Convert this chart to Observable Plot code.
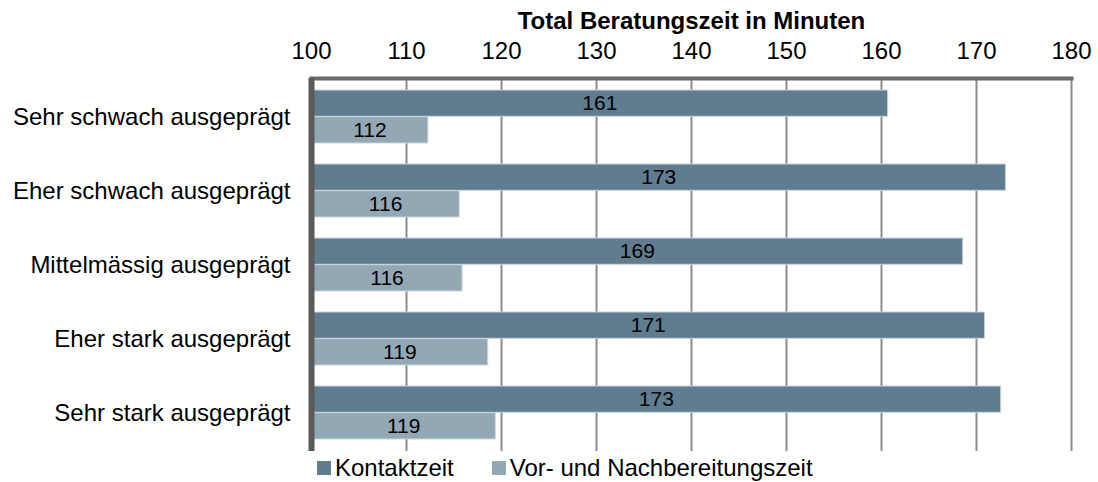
<!DOCTYPE html>
<html>
<head>
<meta charset="utf-8">
<script src="https://cdn.jsdelivr.net/npm/d3@7"></script>
<script src="https://cdn.jsdelivr.net/npm/@observablehq/plot@0.6"></script>
<style>
  html, body { margin: 0; padding: 0; background: #fff; }
  #wrap { position: relative; width: 1098px; height: 482px; font-family: "Liberation Sans", Arial, sans-serif; }
  #legend { position: absolute; top: 454px; left: 317px; display: flex; align-items: center; font-size: 24px; color: #000; white-space: nowrap; }
  #legend .item { display: flex; align-items: center; margin-right: 38px; }
  #legend .sw { width: 14px; height: 14px; margin-right: 4px; }
</style>
</head>
<body>
<div id="wrap"><div id="chart"></div><div id="legend"></div></div>
<script>
const categories = ["Sehr schwach ausgeprägt", "Eher schwach ausgeprägt", "Mittelmässig ausgeprägt", "Eher stark ausgeprägt", "Sehr stark ausgeprägt"];
const kontaktzeit = [160.7, 173.1, 168.6, 170.9, 172.6];
const vorNachbereitung = [112.3, 115.6, 115.9, 118.6, 119.4];
const xTicks = [100, 110, 120, 130, 140, 150, 160, 170, 180];
const seriesNames = ["Kontaktzeit", "Vor- und Nachbereitungszeit"];
const seriesColors = ["#5f7d8f", "#93a8b5"];
const axisTitle = "Total Beratungszeit in Minuten";

const dark = categories.map((c, i) => ({cat: c, v: kontaktzeit[i]}));
const light = categories.map((c, i) => ({cat: c, v: vorNachbereitung[i]}));

const marginTop = 78, marginBottom = 31, height = 482;
const pIn = 0.284, pOut = 0.142;
const step = (height - marginTop - marginBottom) / (categories.length - pIn + 2 * pOut);
const half = step * (1 - pIn) / 2;

const chart = Plot.plot({
  width: 1098,
  height,
  marginTop,
  marginBottom,
  marginLeft: 311,
  marginRight: 27,
  style: {fontFamily: "'Liberation Sans', Arial, sans-serif", fontSize: "24px", color: "#000", background: "#fff"},
  x: {domain: [100, 180], axis: null},
  y: {domain: categories, paddingInner: pIn, paddingOuter: pOut, axis: null},
  marks: [
    Plot.ruleX(xTicks.slice(1), {stroke: "#8c8c8c", strokeWidth: 2}),
    Plot.barX(dark, {x1: 100, x2: "v", y: "cat", insetBottom: half, fill: seriesColors[0], stroke: "#c9d5dd", strokeWidth: 1}),
    Plot.barX(light, {x1: 100, x2: "v", y: "cat", insetTop: half, fill: seriesColors[1], stroke: "#c9d5dd", strokeWidth: 1}),
    Plot.frame({anchor: "top", stroke: "#6a6a6a", strokeWidth: 4}),
    Plot.ruleX([100], {stroke: "#5a5a5a", strokeWidth: 6}),
    Plot.text(dark, {x: d => (100 + d.v) / 2, y: "cat", dy: -half / 2, text: d => String(Math.round(d.v)), fontSize: 21, fill: "#000"}),
    Plot.text(light, {x: d => (100 + d.v) / 2, y: "cat", dy: half / 2, text: d => String(Math.round(d.v)), fontSize: 21, fill: "#000"}),
    Plot.axisX(xTicks, {anchor: "top", tickSize: 0, tickPadding: 20, label: null, fontSize: 24}),
    Plot.axisY({tickSize: 0, tickPadding: 21, label: null, fontSize: 24}),
    Plot.text([axisTitle], {frameAnchor: "top", lineAnchor: "middle", dy: -57, fontWeight: "bold", fontSize: 24, fill: "#000"})
  ]
});
document.getElementById("chart").appendChild(chart);

const legend = document.getElementById("legend");
seriesNames.forEach((name, i) => {
  const item = document.createElement("div");
  item.className = "item";
  const sw = document.createElement("span");
  sw.className = "sw";
  sw.style.background = seriesColors[i];
  const t = document.createElement("span");
  t.textContent = name;
  item.appendChild(sw);
  item.appendChild(t);
  legend.appendChild(item);
});
</script>
</body>
</html>
